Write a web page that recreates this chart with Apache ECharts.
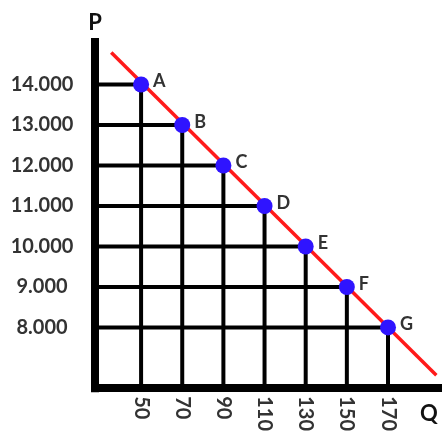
<!DOCTYPE html>
<html>
<head>
<meta charset="utf-8">
<script src="https://cdn.jsdelivr.net/npm/echarts@6/dist/echarts.min.js"></script>
<style>
  html, body { margin: 0; padding: 0; background: #fff; }
  #chart { width: 443px; height: 434px; }
</style>
</head>
<body>
<div id="chart"></div>
<script>
// demand schedule
var pointNames = ['A', 'B', 'C', 'D', 'E', 'F', 'G'];
var quantity = [50, 70, 90, 110, 130, 150, 170];
var price = [14000, 13000, 12000, 11000, 10000, 9000, 8000];
var priceLabels = ['14.000', '13.000', '12.000', '11.000', '10.000', '9.000', '8.000'];
// demand line ends (runs a bit past A and G)
var lineQ = [35.5, 193.5];
var lineP = [14790, 6820];

var xMin = 27.6, xMax = 194.3;
var yMin = 6500, yMax = 15050;

var chart = echarts.init(document.getElementById('chart'));

var series = [];
// drop lines from each point to both axes
quantity.forEach(function (q, i) {
  series.push({
    type: 'line',
    data: [[xMin, price[i]], [q, price[i]], [q, yMin]],
    symbol: 'none',
    silent: true,
    z: 1,
    lineStyle: { color: '#000', width: 4 }
  });
});
series.push({
  type: 'line',
  data: [[lineQ[0], lineP[0]], [lineQ[1], lineP[1]]],
  symbol: 'none',
  z: 3,
  lineStyle: { color: '#ff1a1a', width: 3.5 }
});
series.push({
  type: 'scatter',
  data: quantity.map(function (q, i) { return { value: [q, price[i]], name: pointNames[i] }; }),
  symbolSize: 16,
  z: 4,
  itemStyle: { color: '#2f14ff', opacity: 1 },
  label: {
    show: true,
    position: 'right',
    distance: 4,
    offset: [0, -3],
    formatter: '{b}',
    color: '#333',
    fontFamily: 'Lato',
    fontWeight: 'bold',
    fontSize: 18
  }
});

var option = {
  backgroundColor: '#fff',
  animation: false,
  grid: { left: 95, right: 5, top: 42, bottom: 41.5 },
  xAxis: {
    type: 'value',
    min: xMin,
    max: xMax,
    axisLine: { show: true, lineStyle: { color: '#000', width: 8, cap: 'square' } },
    axisTick: { show: false },
    splitLine: { show: false },
    axisLabel: {
      customValues: quantity,
      rotate: -90,
      margin: 8,
      color: '#333',
      fontFamily: 'Lato',
      fontWeight: 'bold',
      fontSize: 20
    }
  },
  yAxis: {
    type: 'value',
    min: yMin,
    max: yMax,
    name: 'P',
    nameLocation: 'end',
    nameGap: 8,
    nameTextStyle: {
      color: '#111',
      fontFamily: 'Lato',
      fontWeight: 'bold',
      fontSize: 22,
      align: 'center'
    },
    axisLine: { show: true, lineStyle: { color: '#000', width: 8, cap: 'square' } },
    axisTick: { show: false },
    splitLine: { show: false },
    axisLabel: {
      customValues: price,
      align: 'center',
      margin: 53,
      color: '#333',
      fontFamily: 'Lato',
      fontWeight: 'bold',
      fontSize: 20,
      formatter: function (v) {
        var i = price.indexOf(v);
        return i >= 0 ? priceLabels[i] : '';
      }
    }
  },
  graphic: [{
    type: 'text',
    left: 420,
    top: 403,
    style: {
      text: 'Q',
      fill: '#111',
      font: 'bold 22px Lato'
    }
  }],
  series: series
};

chart.setOption(option);
</script>
</body>
</html>
